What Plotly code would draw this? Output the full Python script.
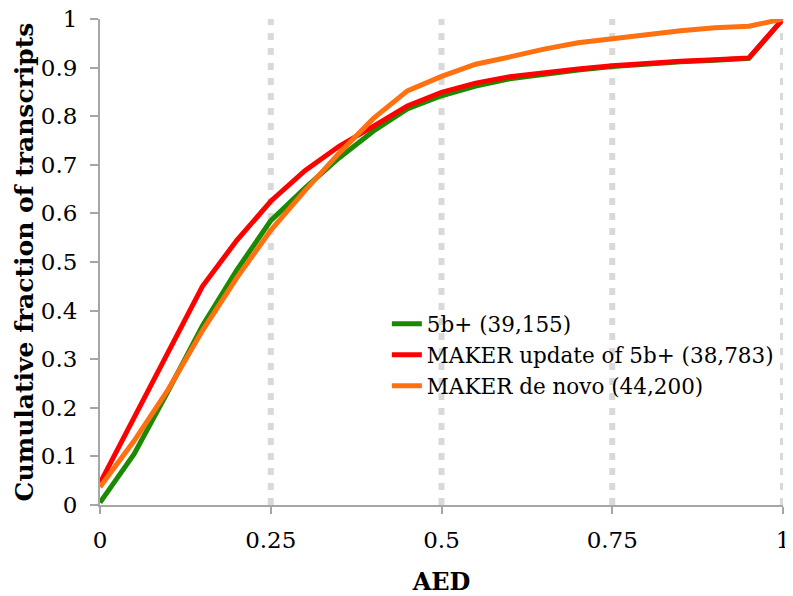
import plotly.graph_objects as go

aed = [0, 0.05, 0.1, 0.15, 0.2, 0.25, 0.3, 0.35, 0.4, 0.45, 0.5,
       0.55, 0.6, 0.65, 0.7, 0.75, 0.8, 0.85, 0.9, 0.95, 1.0]
s5b = [0.005, 0.105, 0.235, 0.369, 0.483, 0.585, 0.652, 0.714, 0.769, 0.815, 0.842,
       0.862, 0.877, 0.887, 0.895, 0.902, 0.908, 0.912, 0.915, 0.919, 1.0]
maker_update = [0.045, 0.179, 0.315, 0.45, 0.544, 0.625, 0.688, 0.738, 0.779, 0.821, 0.849,
                0.868, 0.881, 0.89, 0.897, 0.904, 0.909, 0.913, 0.916, 0.92, 1.0]
maker_denovo = [0.037, 0.132, 0.238, 0.359, 0.467, 0.565, 0.647, 0.724, 0.795, 0.852, 0.882,
                0.907, 0.922, 0.938, 0.951, 0.96, 0.969, 0.976, 0.982, 0.985, 1.0]

names = ["5b+ (39,155)", "MAKER update of 5b+ (38,783)", "MAKER de novo (44,200)"]
colors = ["#1a8a00", "#ff0000", "#ff7010"]
series = [s5b, maker_update, maker_denovo]

y_ticks = [0, 0.1, 0.2, 0.3, 0.4, 0.5, 0.6, 0.7, 0.8, 0.9, 1]
y_labels = ["0", "0.1", "0.2", "0.3", "0.4", "0.5", "0.6", "0.7", "0.8", "0.9", "1"]
x_ticks = [0, 0.25, 0.5, 0.75, 1]
x_labels = ["0", "0.25", "0.5", "0.75", "1"]
x_grid = [0.25, 0.5, 0.75, 1]

FONT = "DejaVu Serif"

fig = go.Figure()
for nm, col, ys in zip(names, colors, series):
    fig.add_trace(go.Scatter(x=aed, y=ys, mode="lines", name=nm,
                             line=dict(color=col, width=5), cliponaxis=False))

# dotted vertical gridlines at the x grid values
for gx in x_grid:
    fig.add_shape(type="line", xref="x", yref="paper", x0=gx, x1=gx, y0=0, y1=1,
                  layer="below", line=dict(color="#d9d9d9", width=6, dash="7px,8px"))

# page body has an 8px margin, so the figure is sized to fit inside the window
fig.update_layout(
    width=785, height=588,
    margin=dict(l=92, r=10, t=11, b=91, autoexpand=False),
    plot_bgcolor="white", paper_bgcolor="white",
    font=dict(family=FONT, size=23, color="black"),
    showlegend=True,
    legend=dict(x=0.42, y=0.415, xanchor="left", yanchor="top",
                bgcolor="rgba(0,0,0,0)", font=dict(family=FONT, size=21.5),
                tracegroupgap=0),
    xaxis=dict(range=[0, 1], tickvals=x_ticks, ticktext=x_labels, automargin=False,
               showline=True, linecolor="#a6a6a6", linewidth=2,
               ticks="outside", ticklen=7, tickwidth=2, tickcolor="#a6a6a6",
               showgrid=False, zeroline=False, ticklabelstandoff=6,
               ticklabeloverflow="allow",
               title=dict(text="<b>AED</b>", font=dict(family=FONT, size=24), standoff=31)),
    yaxis=dict(range=[0, 1], tickvals=y_ticks, ticktext=y_labels, automargin=False,
               showline=True, linecolor="#a6a6a6", linewidth=2,
               ticks="outside", ticklen=8, tickwidth=2, tickcolor="#a6a6a6",
               showgrid=False, zeroline=False, ticklabelstandoff=8,
               ticklabeloverflow="allow",
               title=dict(text="<b>Cumulative fraction of transcripts</b>",
                          font=dict(family=FONT, size=25), standoff=0)),
)

fig.write_html("out.html")
